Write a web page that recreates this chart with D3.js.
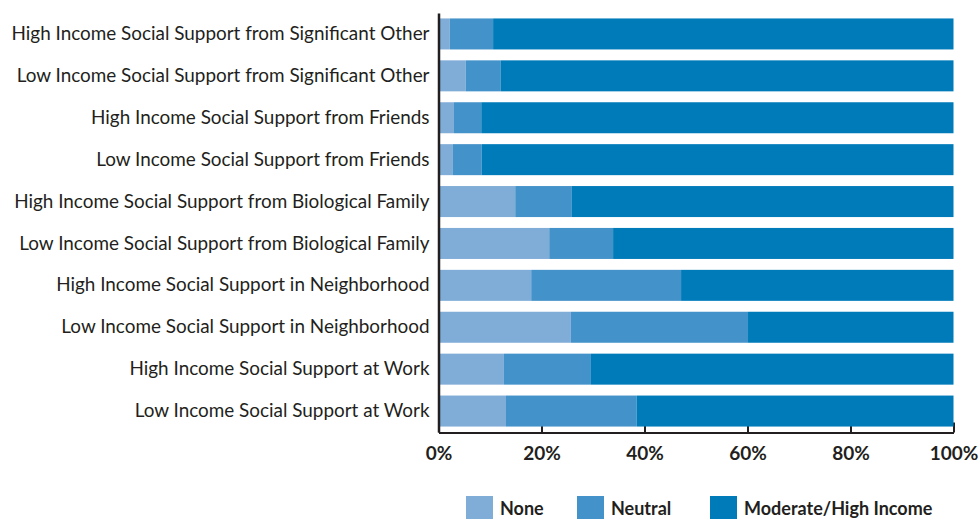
<!DOCTYPE html>
<html>
<head>
<meta charset="utf-8">
<script src="https://cdn.jsdelivr.net/npm/d3@7"></script>
<style>
  body { margin: 0; background: #fff; }
  text { font-family: Lato, "Open Sans", sans-serif; fill: #231f20; }
</style>
</head>
<body>
<script>
// chart size
const width = 979;
const height = 519;

// categories, top to bottom
const categories = [
  "High Income Social Support from Significant Other",
  "Low Income Social Support from Significant Other",
  "High Income Social Support from Friends",
  "Low Income Social Support from Friends",
  "High Income Social Support from Biological Family",
  "Low Income Social Support from Biological Family",
  "High Income Social Support in Neighborhood",
  "Low Income Social Support in Neighborhood",
  "High Income Social Support at Work",
  "Low Income Social Support at Work"
];

// series values in percent
const seriesNames = ["None", "Neutral", "Moderate/High Income"];
const noneVals     = [2.2, 5.3, 3.0, 2.8, 14.9, 21.5, 18.0, 25.7, 12.7, 13.1];
const neutralVals  = [8.4, 6.8, 5.3, 5.6, 11.0, 12.4, 29.1, 34.4, 16.9, 25.4];
const moderateVals = [89.4, 87.9, 91.7, 91.6, 74.1, 66.1, 52.9, 39.9, 70.4, 61.5];

const tickVals = [0, 20, 40, 60, 80, 100];
const colors = ["#80acd8", "#4392c9", "#007bba"];

const rows = categories.map((c, i) => ({
  cat: c,
  None: noneVals[i],
  Neutral: neutralVals[i],
  "Moderate/High Income": moderateVals[i]
}));

const svg = d3.select("body").append("svg")
  .attr("width", width)
  .attr("height", height);

const x = d3.scaleLinear().domain([0, 100]).range([438.5, 953.5]);
const y = d3.scaleBand().domain(categories).range([13, 432])
  .paddingInner(0.26).paddingOuter(0.13);

const color = d3.scaleOrdinal().domain(seriesNames).range(colors);

// x axis with inward ticks (drawn under bars)
const xAxis = svg.append("g")
  .attr("transform", "translate(0,432.5)")
  .call(d3.axisBottom(x).tickValues(tickVals).tickSizeInner(-10).tickSizeOuter(0).tickFormat(d => d + "%"));
xAxis.select(".domain").attr("stroke", "#231f20").attr("stroke-width", 2);
xAxis.selectAll(".tick line").attr("stroke", "#231f20").attr("stroke-width", 2);
xAxis.selectAll(".tick text")
  .attr("y", 27)
  .attr("dy", 0)
  .style("font-size", "19px")
  .style("font-weight", "bold")
  .style("font-family", "Lato, sans-serif")
  .attr("fill", "#231f20");

// stacked bars
const stack = d3.stack().keys(seriesNames)(rows);
svg.append("g").selectAll("g")
  .data(stack)
  .join("g")
  .attr("fill", d => color(d.key))
  .selectAll("rect")
  .data(d => d)
  .join("rect")
  .attr("x", d => x(d[0]))
  .attr("y", d => y(d.data.cat))
  .attr("width", d => x(d[1]) - x(d[0]))
  .attr("height", y.bandwidth());

// y axis line and labels
const yAxis = svg.append("g")
  .attr("transform", "translate(438.5,0)")
  .call(d3.axisLeft(y).tickSize(0).tickPadding(9));
yAxis.select(".domain").attr("stroke", "#231f20").attr("stroke-width", 2.5);
yAxis.selectAll(".tick text")
  .style("font-size", "18.9px")
  .style("font-family", "Lato, sans-serif")
  .attr("fill", "#231f20");

// legend
const legendX = [466, 577, 710];
const legend = svg.append("g").selectAll("g")
  .data(seriesNames)
  .join("g")
  .attr("transform", (d, i) => `translate(${legendX[i]},496)`);
legend.append("rect")
  .attr("width", 27)
  .attr("height", 26)
  .attr("fill", d => color(d));
legend.append("text")
  .attr("x", 34)
  .attr("y", 19)
  .style("font-size", "18px")
  .style("font-weight", "bold")
  .text(d => d);
</script>
</body>
</html>
